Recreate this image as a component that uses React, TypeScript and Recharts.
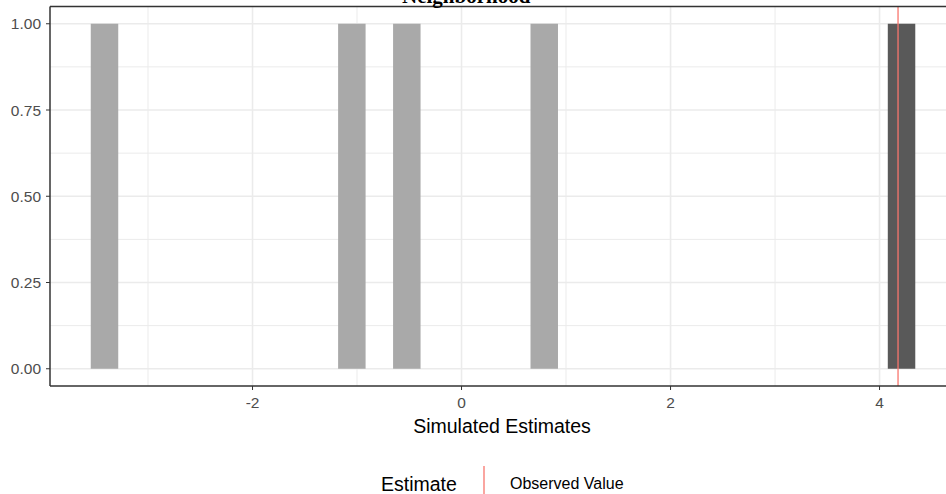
import { ComposedChart, Line, XAxis, YAxis, CartesianGrid, ReferenceArea, ReferenceLine, Label } from 'recharts'

// histogram bins (30 bins, width ~0.263)
const binStart = [-3.548, -1.181, -0.655, 0.66, 4.079]
const binEnd = [-3.285, -0.918, -0.392, 0.923, 4.342]
const binCount = [1, 1, 1, 1, 1]
const binGroup = ['simulated', 'simulated', 'simulated', 'simulated', 'observed']
const observedValue = 4.177

const xTicks = [-2, 0, 2, 4]
const xMinor = [-3, -1, 1, 3]
const yTicks = [0, 0.25, 0.5, 0.75, 1]
const yMinor = [0.125, 0.375, 0.625, 0.875]

const groupFill: Record<string, string> = { simulated: '#A9A9A9', observed: '#595959' }

const rows = binStart.map((s, i) => ({ mid: (s + binEnd[i]) / 2, count: binCount[i] }))

const sans = '"Liberation Sans", Arial, sans-serif'
const tickStyle = { fill: '#4D4D4D', fontSize: 15.5, fontFamily: sans }

export default function App() {
  return (
    <div style={{ position: 'absolute', left: 0, top: 0, width: 946, height: 494, overflow: 'hidden', background: '#fff' }}>
      <ComposedChart width={946} height={494} data={rows} margin={{ top: 6.5, right: 0, left: 0, bottom: 48 }}>
        <CartesianGrid horizontalValues={yMinor} verticalValues={xMinor} stroke="#EBEBEB" strokeWidth={1} />
        <CartesianGrid horizontalValues={yTicks} verticalValues={xTicks} stroke="#EBEBEB" strokeWidth={1.6} />
        <XAxis
          dataKey="mid"
          type="number"
          domain={[-3.938, 4.636]}
          allowDataOverflow
          ticks={xTicks}
          tick={tickStyle}
          tickSize={4}
          tickMargin={7}
          tickLine={{ stroke: '#333333' }}
          axisLine={{ stroke: '#333333', strokeWidth: 1.5 }}
          height={60}
        >
          <Label
            value="Simulated Estimates"
            position="insideBottom"
            offset={13}
            dx={4}
            style={{ fill: '#000', fontSize: 19.5, fontFamily: sans }}
          />
        </XAxis>
        <YAxis
          type="number"
          domain={[-0.05, 1.05]}
          allowDataOverflow
          ticks={yTicks}
          tickFormatter={(v) => v.toFixed(2)}
          tick={tickStyle}
          tickSize={4}
          tickMargin={5}
          tickLine={{ stroke: '#333333' }}
          axisLine={{ stroke: '#333333', strokeWidth: 1.5 }}
          width={50}
        />
        {binStart.map((s, i) => (
          <ReferenceArea
            key={i}
            x1={s}
            x2={binEnd[i]}
            y1={0}
            y2={binCount[i]}
            fill={groupFill[binGroup[i]]}
            fillOpacity={1}
            stroke="none"
          />
        ))}
        <Line dataKey="count" stroke="none" dot={false} activeDot={false} isAnimationActive={false} />
        <ReferenceLine x={observedValue} stroke="#F8766D" strokeWidth={1.3} />
        <ReferenceLine y={1.05} stroke="#333333" strokeWidth={1.5} ifOverflow="visible" />
      </ComposedChart>
      <svg width={946} height={494} style={{ position: 'absolute', left: 0, top: 0, pointerEvents: 'none' }}>
        <text x={402} y={3} fontFamily='"Liberation Serif", "Times New Roman", serif' fontWeight="bold" fontSize={21} fill="#000">
          Neighborhood
        </text>
        <text x={381} y={491} fontFamily={sans} fontSize={19.5} fill="#000">
          Estimate
        </text>
        <line x1={484} x2={484} y1={466} y2={494} stroke="#F8766D" strokeWidth={1.3} />
        <text x={510} y={489} fontFamily={sans} fontSize={16} fill="#000">
          Observed Value
        </text>
      </svg>
    </div>
  )
}
